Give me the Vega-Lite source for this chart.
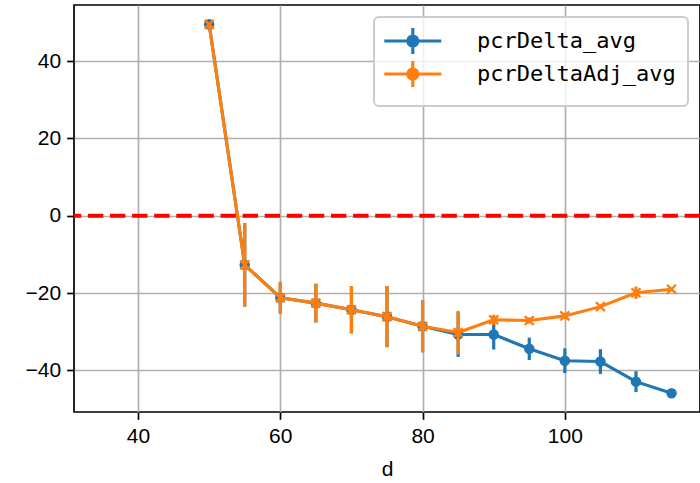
{
  "$schema": "https://vega.github.io/schema/vega-lite/v6.json",
  "autosize": "none",
  "padding": {"left": 74, "top": 5, "right": 0, "bottom": 71},
  "width": 626,
  "height": 407,
  "background": "white",
  "config": {
    "font": "Liberation Sans",
    "view": {"stroke": "black", "strokeWidth": 1.7},
    "axis": {
      "grid": true,
      "gridColor": "#b0b0b0",
      "gridWidth": 1.7,
      "domain": false,
      "tickColor": "black",
      "tickWidth": 1.7,
      "tickSize": 7.3,
      "labelPadding": 6,
      "labelFont": "Liberation Sans",
      "labelFontSize": 21,
      "labelColor": "black",
      "titleFont": "Liberation Sans",
      "titleFontSize": 21,
      "titleFontWeight": "normal",
      "titleColor": "black"
    }
  },
  "data": {
    "values": [
      {"d": 50, "series": "pcrDelta_avg", "value": 49.5, "err": 0.5},
      {"d": 55, "series": "pcrDelta_avg", "value": -12.7, "err": 10.8},
      {"d": 60, "series": "pcrDelta_avg", "value": -21.2, "err": 4.1},
      {"d": 65, "series": "pcrDelta_avg", "value": -22.6, "err": 5.0},
      {"d": 70, "series": "pcrDelta_avg", "value": -24.3, "err": 6.1},
      {"d": 75, "series": "pcrDelta_avg", "value": -26.1, "err": 7.9},
      {"d": 80, "series": "pcrDelta_avg", "value": -28.6, "err": 6.7},
      {"d": 85, "series": "pcrDelta_avg", "value": -30.7, "err": 5.8},
      {"d": 90, "series": "pcrDelta_avg", "value": -30.7, "err": 3.9},
      {"d": 95, "series": "pcrDelta_avg", "value": -34.4, "err": 2.9},
      {"d": 100, "series": "pcrDelta_avg", "value": -37.5, "err": 3.2},
      {"d": 105, "series": "pcrDelta_avg", "value": -37.7, "err": 3.2},
      {"d": 110, "series": "pcrDelta_avg", "value": -42.9, "err": 2.7},
      {"d": 115, "series": "pcrDelta_avg", "value": -45.9, "err": 0.5},
      {"d": 50, "series": "pcrDeltaAdj_avg", "value": 49.5, "err": 0.5},
      {"d": 55, "series": "pcrDeltaAdj_avg", "value": -12.7, "err": 10.8},
      {"d": 60, "series": "pcrDeltaAdj_avg", "value": -21.2, "err": 4.1},
      {"d": 65, "series": "pcrDeltaAdj_avg", "value": -22.6, "err": 5.0},
      {"d": 70, "series": "pcrDeltaAdj_avg", "value": -24.3, "err": 6.1},
      {"d": 75, "series": "pcrDeltaAdj_avg", "value": -26.1, "err": 7.9},
      {"d": 80, "series": "pcrDeltaAdj_avg", "value": -28.6, "err": 6.7},
      {"d": 85, "series": "pcrDeltaAdj_avg", "value": -30.2, "err": 5.6},
      {"d": 90, "series": "pcrDeltaAdj_avg", "value": -26.9, "err": 1.3},
      {"d": 95, "series": "pcrDeltaAdj_avg", "value": -27.1, "err": 0.8},
      {"d": 100, "series": "pcrDeltaAdj_avg", "value": -25.9, "err": 0.8},
      {"d": 105, "series": "pcrDeltaAdj_avg", "value": -23.5, "err": 0.6},
      {"d": 110, "series": "pcrDeltaAdj_avg", "value": -19.9, "err": 1.6},
      {"d": 115, "series": "pcrDeltaAdj_avg", "value": -19.0, "err": 0.5}
    ]
  },
  "encoding": {
    "x": {
      "field": "d", "type": "quantitative", "title": "d",
      "scale": {"domain": [31, 119], "nice": false, "zero": false},
      "axis": {"values": [40, 60, 80, 100], "titlePadding": 12}
    },
    "y": {
      "field": "value", "type": "quantitative", "title": null,
      "scale": {"domain": [-50.75, 54.5], "nice": false, "zero": false},
      "axis": {"values": [-40, -20, 0, 20, 40]}
    },
    "color": {
      "field": "series", "type": "nominal",
      "scale": {"domain": ["pcrDelta_avg", "pcrDeltaAdj_avg"], "range": ["#1f77b4", "#ff7f0e"]},
      "legend": {
        "title": null,
        "orient": "top-right",
        "offset": 12,
        "padding": 12,
        "fillColor": "rgba(255,255,255,0.8)",
        "strokeColor": "#cccccc",
        "cornerRadius": 5,
        "rowPadding": -7,
        "labelFont": "DejaVu Sans Mono",
        "labelFontSize": 22,
        "labelColor": "black",
        "labelOffset": 67,
        "labelLimit": 400,
        "symbolType": "M-1.37,0H4.33M1.48,-1.3V1.3M1.98,0A0.5,0.5,0,1,1,0.98,0A0.5,0.5,0,1,1,1.98,0Z",
        "symbolSize": 400,
        "symbolStrokeWidth": 3.1,
        "symbolOpacity": 1,
        "encode": {
          "legend": {"update": {"strokeWidth": {"value": 2}}},
          "symbols": {
            "update": {
              "fill": {"scale": "color", "field": "value"},
              "stroke": {"scale": "color", "field": "value"},
              "opacity": {"value": 1}
            }
          }
        }
      }
    }
  },
  "layer": [
    {
      "transform": [{"filter": "datum.series === 'pcrDelta_avg'"}],
      "mark": {"type": "errorbar", "thickness": 3.2},
      "encoding": {"yError": {"field": "err"}}
    },
    {
      "transform": [{"filter": "datum.series === 'pcrDelta_avg'"}],
      "mark": {"type": "line", "strokeWidth": 3.1, "strokeJoin": "round"}
    },
    {
      "transform": [{"filter": "datum.series === 'pcrDelta_avg'"}],
      "mark": {"type": "point", "shape": "circle", "filled": true, "opacity": 1, "size": 110}
    },
    {
      "transform": [{"filter": "datum.series === 'pcrDeltaAdj_avg'"}],
      "mark": {"type": "errorbar", "thickness": 3.2},
      "encoding": {"yError": {"field": "err"}}
    },
    {
      "transform": [{"filter": "datum.series === 'pcrDeltaAdj_avg'"}],
      "mark": {"type": "line", "strokeWidth": 3.1, "strokeJoin": "round"}
    },
    {
      "transform": [{"filter": "datum.series === 'pcrDeltaAdj_avg'"}],
      "mark": {"type": "point", "shape": "M-1,-1L1,1M-1,1L1,-1", "filled": false, "opacity": 1, "strokeWidth": 2.4, "size": 80}
    },
    {
      "data": {"values": [{"ref": 0}]},
      "mark": {"type": "rule", "color": "red", "strokeWidth": 4.2, "strokeDash": [15.4, 6.7]},
      "encoding": {
        "y": {"field": "ref", "type": "quantitative"},
        "x": null,
        "color": null
      }
    }
  ]
}
